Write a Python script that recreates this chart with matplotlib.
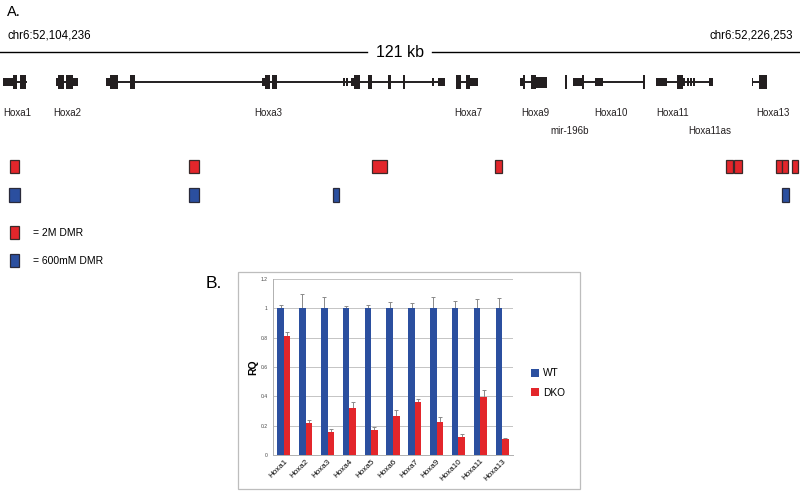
import matplotlib.pyplot as plt
import matplotlib.patches as patches
import numpy as np

plt.rcParams['font.family'] = ['Liberation Sans', 'DejaVu Sans']

# ---- panel A: region, gene models (kb from chr6:52,104,236) ----
region_start = "chr6:52,104,236"
region_end = "chr6:52,226,253"
region_kb = 122.0
scale_label = "121 kb"

# gene labels, label x in kb, label row; introns (start, end); exons (start, end, kind)
gene_labels = ["Hoxa1", "Hoxa2", "Hoxa3", "Hoxa7", "Hoxa9", "mir-196b",
               "Hoxa10", "Hoxa11", "Hoxa11as", "Hoxa13"]
gene_label_kb = [2.6, 10.2, 40.9, 71.4, 81.7, 86.8, 93.2, 102.5, 108.3, 117.9]
gene_label_row = [0, 0, 0, 0, 0, 1, 0, 0, 1, 0]

introns = [(0.5, 4.1), (8.5, 11.9), (16.2, 67.9), (69.5, 72.9), (79.3, 83.4),
           (87.4, 98.4), (100.0, 108.7), (114.7, 117.0)]

exons = [
    (0.5, 2.0, 'm'), (2.0, 2.6, 't'), (3.0, 4.0, 't'),
    (8.5, 8.9, 'm'), (8.9, 9.8, 't'), (10.1, 11.1, 't'), (11.1, 11.9, 'm'),
    (16.2, 16.8, 'm'), (16.8, 18.0, 't'), (19.8, 20.6, 't'),
    (40.0, 40.4, 'm'), (40.4, 41.2, 't'), (41.5, 42.2, 't'),
    (52.3, 52.6, 'm'), (52.8, 53.1, 'm'), (53.5, 54.0, 'm'), (54.0, 54.9, 't'),
    (56.1, 56.7, 't'), (59.2, 59.6, 't'), (61.5, 61.8, 't'),
    (65.9, 66.2, 'm'), (66.8, 67.9, 'm'),
    (69.5, 70.3, 't'), (71.1, 71.7, 't'), (71.7, 72.9, 'm'),
    (79.3, 79.8, 'm'), (79.8, 80.1, 't'), (81.0, 81.7, 't'), (81.7, 83.4, 'b'),
    (86.2, 86.5, 't'),
    (87.4, 88.8, 'm'), (88.8, 89.1, 't'), (90.7, 92.0, 'm'), (98.1, 98.4, 't'),
    (100.0, 101.7, 'm'), (103.2, 104.2, 't'), (104.2, 104.5, 'm'),
    (104.8, 105.1, 'm'), (105.2, 105.5, 'm'), (105.7, 106.0, 'm'), (108.1, 108.7, 'm'),
    (114.7, 114.9, 'm'), (115.8, 117.0, 't'),
]

# DMRs (kb)
dmr_2m = [(1.5, 2.9), (28.8, 30.3), (56.7, 59.0), (75.5, 76.6), (110.7, 111.8),
          (111.9, 113.2), (118.3, 119.3), (119.3, 120.2), (120.8, 121.7)]
dmr_600 = [(1.4, 3.1), (28.8, 30.3), (50.8, 51.7), (119.3, 120.3)]

# ---- panel B: qPCR ----
genes_b = ["Hoxa1", "Hoxa2", "Hoxa3", "Hoxa4", "Hoxa5", "Hoxa6", "Hoxa7",
           "Hoxa9", "Hoxa10", "Hoxa11", "Hoxa13"]
wt = [1, 1, 1, 1, 1, 1, 1, 1, 1, 1, 1]
wt_err = [0.02, 0.095, 0.075, 0.014, 0.02, 0.04, 0.036, 0.075, 0.052, 0.066, 0.068]
dko = [0.814, 0.216, 0.157, 0.323, 0.17, 0.268, 0.359, 0.225, 0.123, 0.395, 0.109]
dko_err = [0.022, 0.02, 0.018, 0.038, 0.018, 0.037, 0.02, 0.034, 0.018, 0.045, 0.005]

RED = '#e3262b'
BLUE = '#2b4f9f'
W, H = 800, 491

fig = plt.figure(figsize=(8, 4.91), dpi=100)

# pixel layout axes (text, legend boxes)
ax_px = fig.add_axes([0, 0, 1, 1])
ax_px.set_xlim(0, W)
ax_px.set_ylim(H, 0)
ax_px.axis('off')

# track axes: x in kb, y in pixel rows
ax_t = fig.add_axes([0, 0, 1, 1])
ax_t.set_xlim(0, region_kb)
ax_t.set_ylim(H, 0)
ax_t.axis('off')
ax_t.patch.set_alpha(0)

ax_px.text(7, 12, "A.", fontsize=10.5, va='center', ha='left')
ax_px.text(7, 35, region_start, fontsize=8.3, va='center', ha='left')
ax_px.text(793, 35, region_end, fontsize=8.3, va='center', ha='right')
ax_px.plot([0, 367], [52, 52], color='black', lw=1)
ax_px.plot([432, 800], [52, 52], color='black', lw=1)
ax_px.text(400, 52, scale_label, fontsize=11.5, va='center', ha='center')

# gene models
track_y = 82
heights = {'t': 14, 'b': 11, 'm': 8}
for s, e in introns:
    ax_t.plot([s, e], [track_y, track_y], color='#231f20', lw=1.4, solid_capstyle='butt')
for s, e, k in exons:
    h = heights[k]
    ax_t.add_patch(patches.Rectangle((s, track_y - h / 2), e - s, h,
                                     facecolor='#231f20', edgecolor='none'))
for name, xk, row in zip(gene_labels, gene_label_kb, gene_label_row):
    ax_t.text(xk, 113 + row * 18, name, fontsize=7, ha='center', va='center', color='#231f20')

# DMR boxes
for s, e in dmr_2m:
    ax_t.add_patch(patches.Rectangle((s, 160), e - s, 13, facecolor=RED,
                                     edgecolor='#3a2a2a', lw=0.9))
for s, e in dmr_600:
    ax_t.add_patch(patches.Rectangle((s, 188), e - s, 14, facecolor=BLUE,
                                     edgecolor='#2a2a3a', lw=0.9))

# DMR key
ax_px.add_patch(patches.Rectangle((9.5, 226), 9, 13, facecolor=RED, edgecolor='#3a2a2a', lw=0.9))
ax_px.add_patch(patches.Rectangle((9.5, 254), 9, 13, facecolor=BLUE, edgecolor='#2a2a3a', lw=0.9))
ax_px.text(33, 232.5, "= 2M DMR", fontsize=7.5, va='center', ha='left')
ax_px.text(33, 260.5, "= 600mM DMR", fontsize=7.5, va='center', ha='left')

# panel B frame
ax_px.add_patch(patches.Rectangle((238, 272), 342, 217, facecolor='white',
                                  edgecolor='#bdbdbd', lw=0.9))
ax_px.text(206, 283, "B.", fontsize=12.5, va='center', ha='left')

# panel B chart
ax = fig.add_axes([273 / W, 1 - 455 / H, 240 / W, 176 / H])
x = np.arange(len(genes_b)) + 0.5
bw = 0.3
zeros = np.zeros(len(genes_b))
b1 = ax.bar(x - bw / 2, wt, bw, color=BLUE, zorder=3, label='WT')
b2 = ax.bar(x + bw / 2, dko, bw, color=RED, zorder=3, label='DKO')
ax.errorbar(x - bw / 2, wt, yerr=[zeros, wt_err], fmt='none', ecolor='#8a8a8a',
            elinewidth=0.7, capsize=1.3, capthick=0.7, zorder=2)
ax.errorbar(x + bw / 2, dko, yerr=[zeros, dko_err], fmt='none', ecolor='#8a8a8a',
            elinewidth=0.7, capsize=1.3, capthick=0.7, zorder=2)
ax.set_xlim(0, len(genes_b))
ax.set_ylim(0, 1.2)
ax.set_yticks(np.arange(0, 1.21, 0.2))
ax.set_yticklabels(['0', '0.2', '0.4', '0.6', '0.8', '1', '1.2'], fontsize=3.6, color='#444')
ax.set_xticks(x)
ax.set_xticklabels(genes_b, rotation=45, ha='right', rotation_mode='anchor', fontsize=5.8)
ax.tick_params(axis='both', length=0, pad=2)
ax.tick_params(axis='y', pad=4)
ax.grid(axis='y', color='#c4c4c4', lw=0.7, zorder=0)
ax.set_axisbelow(True)
for s in ['top', 'right']:
    ax.spines[s].set_visible(False)
for s in ['left', 'bottom']:
    ax.spines[s].set_color('#b0b0b0')
    ax.spines[s].set_linewidth(0.7)
ax.set_ylabel("RQ", fontsize=7.5, fontweight='bold')
ax.yaxis.set_label_coords(-0.06, 0.5)
ax.patch.set_alpha(0)

fig.legend(handles=[b1, b2], loc='center left', bbox_to_anchor=(522 / W, 1 - 383 / H),
           frameon=False, fontsize=7.3, handlelength=0.8, handleheight=0.8,
           handletextpad=0.4, labelspacing=0.9)

fig.savefig("out.png", dpi=100)
